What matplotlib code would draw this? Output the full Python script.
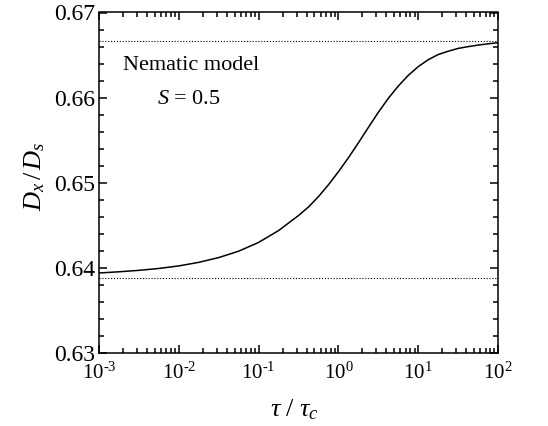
import matplotlib
matplotlib.use("Agg")
import matplotlib.pyplot as plt
import numpy as np
from matplotlib.ticker import MultipleLocator, LogLocator, NullFormatter

plt.rcParams['font.family'] = ['Liberation Serif', 'DejaVu Serif']
plt.rcParams['mathtext.fontset'] = 'custom'
plt.rcParams['mathtext.rm'] = 'Liberation Serif'
plt.rcParams['mathtext.it'] = 'Liberation Serif:italic'

# data (log10 of tau/tau_c, Dx/Ds)
log_tau = [-3.0, -2.75, -2.5, -2.25, -2.0, -1.75, -1.5, -1.25, -1.0, -0.75,
           -0.5, -0.375, -0.25, -0.125, 0.0, 0.125, 0.25, 0.375, 0.5, 0.625,
           0.75, 0.875, 1.0, 1.125, 1.25, 1.375, 1.5, 1.625, 1.75, 1.875, 2.0]
ratio = [0.63940, 0.63954, 0.63971, 0.63993, 0.64023, 0.64065, 0.64121, 0.64196,
         0.64299, 0.64438, 0.64615, 0.64715, 0.64837, 0.64976, 0.65129, 0.65293,
         0.65468, 0.65649, 0.65827, 0.65991, 0.66136, 0.66261, 0.66364, 0.66445,
         0.66506, 0.66545, 0.66578, 0.66599, 0.66617, 0.66632, 0.66645]
upper_limit = 2.0 / 3.0
lower_limit = 0.63886
x_ticks = [1e-3, 1e-2, 1e-1, 1e0, 1e1, 1e2]
x_tick_labels = ['10$^{\u20103}$', '10$^{\u20102}$', '10$^{\u20101}$',
                 '10$^{0}$', '10$^{1}$', '10$^{2}$']
y_ticks = [0.63, 0.64, 0.65, 0.66, 0.67]
y_tick_labels = ['0.63', '0.64', '0.65', '0.66', '0.67']

fig = plt.figure(figsize=(5.48, 4.26), dpi=100)
ax = fig.add_axes([99/548, 73/426, 399/548, 340.5/426])

tau = 10.0 ** np.array(log_tau)
ax.plot(tau, ratio, color='black', lw=1.1, solid_capstyle='butt', solid_joinstyle='round')
ax.axhline(upper_limit, color='black', lw=0.8, ls=(0, (1, 1.6)))
ax.axhline(lower_limit, color='black', lw=0.8, ls=(0, (1, 1.6)))

ax.set_xscale('log')
ax.set_xlim(1e-3, 1e2)
ax.set_ylim(0.63, 0.67)
ax.set_xticks(x_ticks)
ax.set_xticklabels(x_tick_labels)
ax.xaxis.set_minor_locator(LogLocator(base=10, subs=np.arange(2, 10), numticks=20))
ax.xaxis.set_minor_formatter(NullFormatter())
ax.set_yticks(y_ticks)
ax.set_yticklabels(y_tick_labels)
ax.yaxis.set_minor_locator(MultipleLocator(0.002))

ax.tick_params(which='both', direction='in', top=True, right=True, width=1.1)
ax.tick_params(which='major', length=6)
ax.tick_params(which='minor', length=3.6)
ax.tick_params(axis='y', labelsize=17, pad=3)
ax.tick_params(axis='x', labelsize=15, pad=7)
for s in ax.spines.values():
    s.set_linewidth(1.1)

ax.set_xlabel(r'$\tau\ /\ \tau_c$', fontsize=19)
ax.set_ylabel(r'$D_x\,/\,D_s$', fontsize=19)
ax.xaxis.set_label_coords(0.49, -0.13)
ax.yaxis.set_label_coords(-0.13, 0.52)

ax.text(0.06, 0.845, 'Nematic model', transform=ax.transAxes, fontsize=16, va='center', ha='left')
ax.text(0.145, 0.745, r'$S$ = 0.5', transform=ax.transAxes, fontsize=16, va='center', ha='left')

fig.savefig('out.png', dpi=100)
